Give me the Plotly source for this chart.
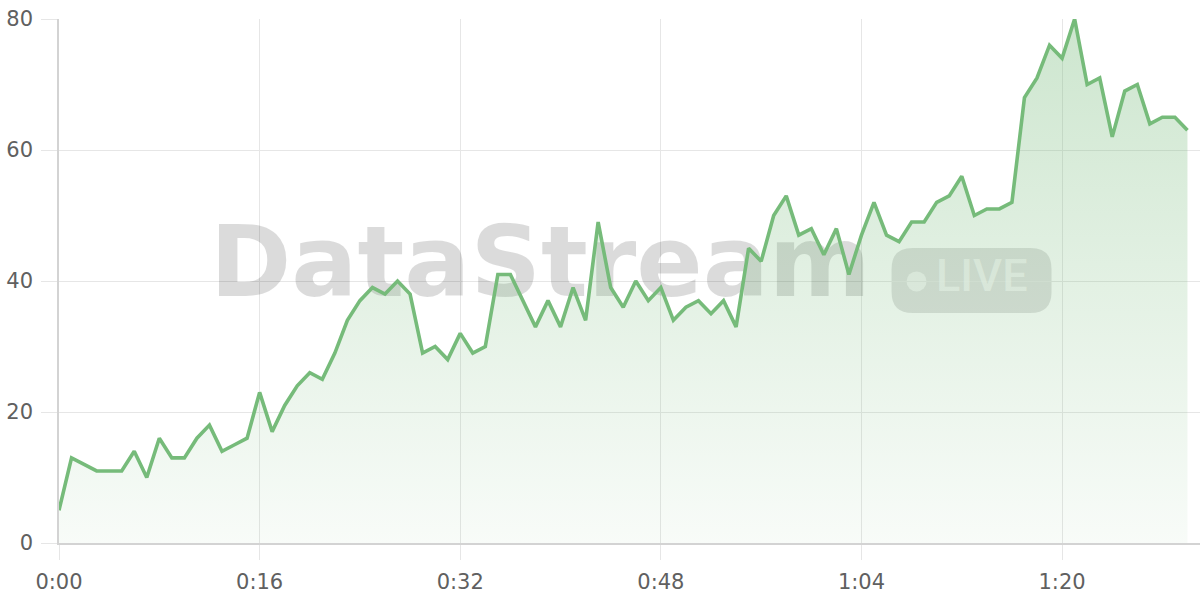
import plotly.graph_objects as go

# ---- data ----
seconds = list(range(0, 91))
values = [5, 13, 12, 11, 11, 11, 14, 10, 16, 13,
          13, 16, 18, 14, 15, 16, 23, 17, 21, 24,
          26, 25, 29, 34, 37, 39, 38, 40, 38, 29,
          30, 28, 32, 29, 30, 41, 41, 37, 33, 37,
          33, 39, 34, 49, 39, 36, 40, 37, 39, 34,
          36, 37, 35, 37, 33, 45, 43, 50, 53, 47,
          48, 44, 48, 41, 47, 52, 47, 46, 49, 49,
          52, 53, 56, 50, 51, 51, 52, 68, 71, 76,
          74, 80, 70, 71, 62, 69, 70, 64, 65, 65,
          63]
x_tick_vals = [0, 16, 32, 48, 64, 80]
x_tick_text = [f"{v // 60}:{v % 60:02d}" for v in x_tick_vals]
y_tick_vals = [0, 20, 40, 60, 80]
watermark = "DataStream"
badge_text = "LIVE"

GREEN = "rgb(118,187,122)"
GRID = "#e6e6e6"
AXIS = "#d3d3d3"
TICKFONT = dict(family="DejaVu Sans", size=21, color="#606060")

fig = go.Figure()

# watermark (drawn beneath the series)
fig.add_trace(go.Scatter(
    x=[38.4], y=[41.5], mode="text", text=[watermark],
    textposition="middle center",
    textfont=dict(family="DejaVu Sans", size=98, color="rgba(0,0,0,0.14)", weight="bold"),
    hoverinfo="skip", showlegend=False,
))
fig.add_trace(go.Scatter(
    x=[73.6], y=[40.2], mode="text", text=[badge_text],
    textposition="middle center",
    textfont=dict(family="Roboto", size=45, color="rgba(255,255,255,0.6)", weight=500),
    hoverinfo="skip", showlegend=False,
))

fig.add_trace(go.Scatter(
    x=seconds, y=values, mode="lines",
    line=dict(color=GREEN, width=3.6),
    fill="tozeroy",
    fillgradient=dict(
        type="vertical",
        colorscale=[[0, "rgba(116,185,120,0.05)"], [1, "rgba(116,185,120,0.36)"]],
    ),
    hoverinfo="skip", showlegend=False,
))

# LIVE badge: rounded rectangle in pixel units anchored at data point
w, h, r = 80, 32.5, 21
path = (f"M {-w + r},{-h} L {w - r},{-h} Q {w},{-h} {w},{-h + r} "
        f"L {w},{h - r} Q {w},{h} {w - r},{h} L {-w + r},{h} "
        f"Q {-w},{h} {-w},{h - r} L {-w},{-h + r} Q {-w},{-h} {-w + r},{-h} Z")
fig.add_shape(type="path", path=path, xref="x", yref="y",
              xsizemode="pixel", ysizemode="pixel", xanchor=72.78, yanchor=40.09,
              fillcolor="rgba(0,0,0,0.12)", line=dict(width=0), layer="below")
fig.add_shape(type="circle", xref="x", yref="y",
              xsizemode="pixel", ysizemode="pixel", xanchor=72.78, yanchor=40.09,
              x0=-65, x1=-45, y0=-11, y1=9,
              fillcolor="rgba(255,255,255,0.6)", line=dict(width=0), layer="below")

fig.update_layout(
    width=1200, height=600,
    margin=dict(l=59, r=0, t=19, b=57),
    paper_bgcolor="white", plot_bgcolor="white",
    showlegend=False,
    hovermode=False,
    xaxis=dict(
        range=[0, 91], tickvals=x_tick_vals, ticktext=x_tick_text,
        showgrid=True, gridcolor=GRID, gridwidth=1,
        ticks="outside", ticklen=15, tickcolor=GRID, tickwidth=1,
        showline=True, linecolor=AXIS, linewidth=1.5,
        zeroline=False, tickfont=TICKFONT, ticklabelstandoff=4, automargin=False,
        ticklabeloverflow="allow",
    ),
    yaxis=dict(
        range=[0, 80], tickvals=y_tick_vals,
        showgrid=True, gridcolor=GRID, gridwidth=1,
        ticks="outside", ticklen=16, tickcolor=GRID, tickwidth=1,
        showline=True, linecolor=AXIS, linewidth=1.5,
        zeroline=False, tickfont=TICKFONT, ticklabelstandoff=4, automargin=False,
        ticklabeloverflow="allow",
    ),
)

fig.write_html("out.html", config={"displayModeBar": False},
               post_script="document.body.style.margin='0px';")
